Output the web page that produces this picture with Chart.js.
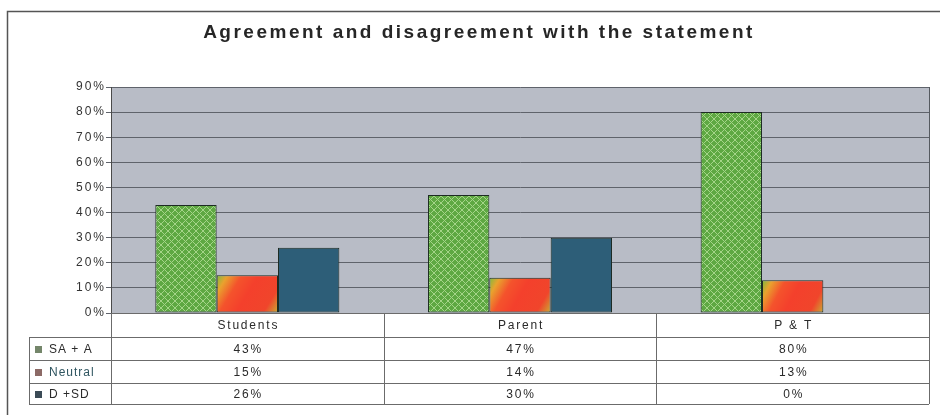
<!DOCTYPE html>
<html>
<head>
<meta charset="utf-8">
<script src="https://cdn.jsdelivr.net/npm/chart.js@4.4.1/dist/chart.umd.min.js"></script>
<style>
  html, body { margin: 0; padding: 0; background: #ffffff; }
  #wrap { width: 940px; height: 415px; position: relative; }
</style>
</head>
<body>
<div id="wrap"><canvas id="c" width="940" height="415"></canvas></div>
<script>
// ---- data ----
const chartTitle = 'Agreement and disagreement with the statement';
const categories = ['Students', 'Parent', 'P & T'];
const seriesNames = ['SA + A', 'Neutral', 'D +SD'];
const agreeValues = [43, 47, 80];
const neutralValues = [15, 14, 13];
const disagreeValues = [26, 30, 0];
const yMax = 90;
const yStep = 10;

// ---- styling ----
const FONT = '"Liberation Sans", Arial, sans-serif';
const CAT_PCT = 0.675;
const TEXT = '#2a2a2a';
const LINE = '#6b6b6b';

// green cross-hatched fill
function makeHatch() {
  const s = 7;
  const cv = document.createElement('canvas');
  cv.width = s; cv.height = s;
  const g = cv.getContext('2d');
  g.fillStyle = '#5ea842';
  g.fillRect(0, 0, s, s);
  g.strokeStyle = '#a4d488';
  g.lineWidth = 1;
  g.beginPath();
  g.moveTo(0, 0); g.lineTo(s, s);
  g.moveTo(s, 0); g.lineTo(0, s);
  g.stroke();
  return document.getElementById('c').getContext('2d').createPattern(cv, 'repeat');
}
const hatch = makeHatch();

// geometry of a bar, taken from the chart scales
function barBox(chart, dataIndex, datasetIndex, value) {
  const xs = chart.scales.x, ys = chart.scales.y;
  const cat = xs.width / categories.length;
  const group = cat * CAT_PCT;
  const bw = group / seriesNames.length;
  const left = xs.getPixelForValue(dataIndex) - group / 2 + bw * datasetIndex;
  return { left, right: left + bw, top: ys.getPixelForValue(value), bottom: ys.getPixelForValue(0) };
}

// red fill with a green-yellow tint in the corners
function neutralFill(ctx) {
  const chart = ctx.chart;
  if (ctx.type !== 'data' || !chart.scales.x || !chart.scales.y) return '#f0432c';
  const b = barBox(chart, ctx.dataIndex, ctx.datasetIndex, ctx.raw);
  if (![b.left, b.right, b.top, b.bottom].every(Number.isFinite)) return '#f0432c';
  const g = chart.ctx.createLinearGradient(b.left, b.top, b.right, b.bottom);
  g.addColorStop(0, '#7cbb3e');
  g.addColorStop(0.13, '#e9a22e');
  g.addColorStop(0.3, '#f4532c');
  g.addColorStop(0.5, '#f4402c');
  g.addColorStop(0.82, '#f0452b');
  g.addColorStop(1, '#c8b034');
  return g;
}

const legendMarks = ['#74866a', '#8c6a66', '#3b4b56'];

// frame, plot background and title
const backdrop = {
  id: 'backdrop',
  beforeDraw(chart) {
    const c = chart.ctx, a = chart.chartArea;
    c.save();
    c.fillStyle = '#ffffff';
    c.fillRect(0, 0, chart.width, chart.height);
    c.strokeStyle = '#555555';
    c.lineWidth = 1.5;
    c.beginPath();
    c.moveTo(7.5, 420); c.lineTo(7.5, 11.5); c.lineTo(945, 11.5);
    c.stroke();
    c.fillStyle = '#b8bcc6';
    c.fillRect(a.left, a.top, a.right - a.left, a.bottom - a.top);
    c.restore();

    c.save();
    c.fillStyle = '#262626';
    c.font = 'bold 19px ' + FONT;
    c.letterSpacing = '2.5px';
    c.textAlign = 'center';
    c.textBaseline = 'middle';
    c.fillText(chartTitle, 479, 33);
    c.restore();
    c.letterSpacing = '2px';
  },
  beforeDatasetsDraw(chart) {
    chart.ctx.letterSpacing = '0px';
    const c = chart.ctx, a = chart.chartArea;
    c.save();
    c.strokeStyle = '#555a60';
    c.lineWidth = 1;
    c.beginPath();
    c.moveTo(Math.round(a.right) + 0.5, a.top);
    c.lineTo(Math.round(a.right) + 0.5, a.bottom);
    c.stroke();
    c.restore();
  },
  afterDraw(chart) {
    const c = chart.ctx, a = chart.chartArea, xs = chart.scales.x;
    const rows = [a.bottom, 337, 360, 383, 404];
    const tableLeft = 29;
    const seriesValues = [agreeValues, neutralValues, disagreeValues];
    c.save();
    c.strokeStyle = LINE;
    c.lineWidth = 1;
    const X = v => Math.round(v) + 0.5;
    c.beginPath();
    // horizontal rules
    c.moveTo(a.left, X(rows[0])); c.lineTo(a.right, X(rows[0]));
    for (let r = 1; r < rows.length; r++) {
      c.moveTo(tableLeft, X(rows[r])); c.lineTo(a.right, X(rows[r]));
    }
    // vertical rules
    c.moveTo(X(tableLeft), X(rows[1])); c.lineTo(X(tableLeft), X(rows[4]));
    const cat = xs.width / categories.length;
    for (let i = 0; i <= categories.length; i++) {
      const x = X(a.left + cat * i);
      c.moveTo(x, rows[0]); c.lineTo(x, rows[4]);
    }
    c.stroke();

    c.fillStyle = TEXT;
    c.font = '12px ' + FONT;
    c.letterSpacing = '1.8px';
    c.textAlign = 'center';
    c.textBaseline = 'middle';
    categories.forEach((name, i) => {
      c.fillText(name, xs.getPixelForValue(i) + 1, (rows[0] + rows[1]) / 2 + 1);
    });
    seriesValues.forEach((vals, s) => {
      const yMid = (rows[s + 1] + rows[s + 2]) / 2 + 1;
      vals.forEach((v, i) => {
        c.fillText(v + '%', xs.getPixelForValue(i) + 1, yMid);
      });
    });
    c.textAlign = 'left';
    c.letterSpacing = '1px';
    seriesNames.forEach((name, s) => {
      const yMid = (rows[s + 1] + rows[s + 2]) / 2 + 1;
      c.fillStyle = legendMarks[s];
      c.fillRect(35, Math.round(yMid - 3.5), 7, 7);
      c.fillStyle = s === 1 ? '#2f5560' : TEXT;
      c.fillText(name, 49, yMid);
    });
    c.restore();
    c.letterSpacing = '0px';
  }
};

new Chart(document.getElementById('c'), {
  type: 'bar',
  data: {
    labels: categories,
    datasets: [
      { label: seriesNames[0], data: agreeValues, backgroundColor: hatch },
      { label: seriesNames[1], data: neutralValues, backgroundColor: neutralFill },
      { label: seriesNames[2], data: disagreeValues, backgroundColor: '#2d5e78' }
    ]
  },
  options: {
    responsive: false,
    animation: false,
    devicePixelRatio: 1,
    layout: { padding: { left: 71, right: 11, top: 87, bottom: 102 } },
    datasets: {
      bar: {
        categoryPercentage: CAT_PCT,
        barPercentage: 1.0,
        borderWidth: 1,
        borderColor: '#1d2b22',
        borderSkipped: false
      }
    },
    plugins: {
      legend: { display: false },
      title: { display: false },
      tooltip: { enabled: false }
    },
    scales: {
      x: { display: false },
      y: {
        min: 0, max: yMax,
        afterFit(scale) { scale.width = 40; },
        ticks: {
          stepSize: yStep,
          padding: 0,
          color: '#333333',
          font: { family: FONT, size: 12 },
          callback: v => v + '%'
        },
        grid: { color: '#5f636b', lineWidth: 1, tickLength: 5, tickColor: '#5f636b' },
        border: { display: true, color: '#4a4a4a', width: 1 }
      }
    }
  },
  plugins: [backdrop]
});
</script>
</body>
</html>
